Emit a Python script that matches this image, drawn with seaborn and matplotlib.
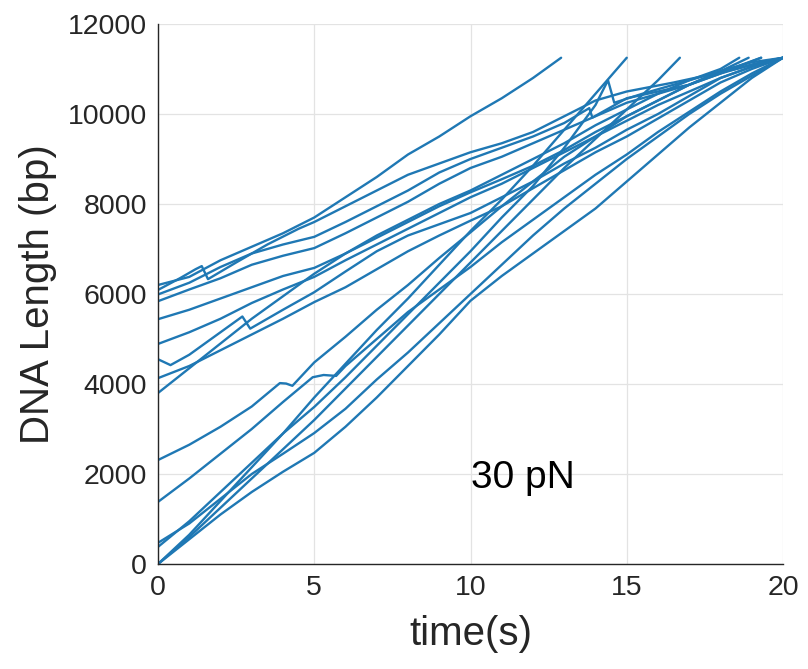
import matplotlib
matplotlib.use("Agg")
import matplotlib.pyplot as plt
import seaborn as sns
import pandas as pd

# ---- data: (time s, DNA length bp) per trace ----
t_u1 = [0, 1, 2, 3, 4, 5, 6, 7, 8, 9, 10, 11, 12, 12.9]
bp_u1 = [6200, 6380, 6750, 7050, 7350, 7700, 8150, 8600, 9100, 9500, 9950, 10350, 10800, 11250]

t_u2 = [0, 0.7, 1.2, 1.4, 1.6, 2.5, 3.5, 4.5, 5, 6, 7, 8, 9, 10, 11, 12, 13, 14, 15, 16.5, 17.5, 18.5, 19.5, 20]
bp_u2 = [6090, 6350, 6550, 6620, 6330, 6700, 7100, 7450, 7600, 7950, 8300, 8650, 8900, 9150, 9350, 9600, 9950, 10300, 10500, 10700, 10850, 11000, 11180, 11250]

t_u3 = [0, 1, 2, 3, 4, 5, 6, 7, 8, 9, 10, 11, 12, 13, 13.8, 13.9, 15, 16, 17, 18, 19.3]
bp_u3 = [5990, 6250, 6600, 6900, 7100, 7270, 7600, 7950, 8300, 8700, 9000, 9250, 9500, 9800, 10130, 9920, 10350, 10500, 10650, 10900, 11250]

t_u4 = [0, 1, 2, 3, 4, 5, 6, 7, 8, 9, 10, 11, 12, 13, 14, 15, 16, 17, 18, 19, 20]
bp_u4 = [5840, 6100, 6350, 6650, 6850, 7020, 7350, 7700, 8050, 8450, 8800, 9050, 9350, 9650, 9950, 10250, 10450, 10650, 10900, 11100, 11250]

t_u5 = [0, 1, 2, 3, 4, 5, 6, 7, 8, 9, 10, 11, 12, 13, 14, 15, 16, 17, 18, 18.9]
bp_u5 = [5440, 5650, 5900, 6150, 6400, 6580, 6900, 7250, 7600, 7950, 8260, 8550, 8850, 9200, 9600, 9950, 10300, 10650, 10950, 11250]

t_u6 = [0, 1, 2, 3, 4, 5, 6, 7, 8, 9, 10, 11, 12, 13, 14, 15, 16, 17, 18, 19, 20]
bp_u6 = [4890, 5150, 5450, 5800, 6100, 6380, 6750, 7100, 7450, 7800, 8150, 8450, 8800, 9150, 9500, 9850, 10200, 10500, 10800, 11050, 11250]

t_u7 = [0, 0.4, 1, 2, 2.7, 2.95, 4, 5, 6, 7, 8, 9, 10, 11, 12, 13, 14, 15, 16, 17, 18, 19, 20]
bp_u7 = [4550, 4420, 4650, 5150, 5500, 5230, 5650, 6040, 6500, 6950, 7300, 7550, 7800, 8150, 8500, 8900, 9250, 9650, 10000, 10400, 10800, 11050, 11250]

t_u8 = [0, 1, 2, 3, 4, 5, 6, 7, 8, 9, 10, 11, 12, 13, 14, 15, 16, 17, 18, 19, 20]
bp_u8 = [4130, 4400, 4750, 5100, 5450, 5820, 6150, 6550, 6950, 7300, 7630, 7950, 8350, 8750, 9150, 9500, 9900, 10300, 10700, 11000, 11250]

t_u9 = [0, 1, 2, 3, 4, 5, 6, 7, 8, 9, 10, 11, 12, 13, 14, 15, 16, 17, 18, 18.6]
bp_u9 = [3800, 4350, 4900, 5450, 5950, 6450, 6900, 7300, 7650, 8000, 8300, 8650, 9000, 9350, 9750, 10100, 10450, 10750, 11000, 11250]

t_s1 = [0, 1, 2, 3, 3.9, 4.1, 4.3, 5, 6, 7, 8, 9, 10, 11, 12, 13, 14, 15, 16, 17, 18, 19, 20]
bp_s1 = [2310, 2650, 3050, 3500, 4020, 4010, 3960, 4480, 5050, 5650, 6200, 6800, 7370, 7950, 8500, 9050, 9500, 9950, 10300, 10650, 10950, 11150, 11250]

t_s2 = [0, 1, 2, 3, 4, 4.95, 5.3, 5.7, 6, 7, 8, 9, 10, 11, 12, 13, 14, 15, 16, 17, 18, 19, 20]
bp_s2 = [1380, 1900, 2450, 3000, 3600, 4150, 4200, 4180, 4400, 5000, 5600, 6100, 6600, 7150, 7650, 8150, 8650, 9100, 9600, 10050, 10500, 10900, 11250]

t_f = [0, 1, 2, 3, 4, 5, 6, 7, 8, 9, 10, 11, 12, 13, 14, 15]
bp_f = [0, 650, 1400, 2150, 2900, 3700, 4450, 5200, 5900, 6650, 7400, 8100, 8850, 9650, 10450, 11250]

t_h = [0, 1, 2, 3, 4, 5, 6, 7, 8, 9, 10, 11, 12, 13, 14, 15, 16, 16.7]
bp_h = [0, 600, 1250, 1900, 2550, 3200, 3900, 4600, 5300, 6000, 6700, 7400, 8100, 8800, 9450, 10100, 10750, 11250]

t_g = [0, 1, 2, 3, 4, 5, 6, 7, 8, 9, 10, 11, 12, 13, 14, 14.4, 14.6, 15.5, 16.5, 17.5, 18.5, 19.3]
bp_g = [380, 950, 1600, 2250, 2900, 3490, 4150, 4850, 5550, 6250, 6950, 7700, 8400, 9250, 10200, 10750, 10250, 10450, 10650, 10850, 11050, 11250]

t_l4 = [0, 1, 2, 3, 4, 5, 6, 7, 8, 9, 10, 11, 12, 13, 14, 15, 16, 17, 18, 19, 20]
bp_l4 = [470, 900, 1450, 2000, 2450, 2910, 3450, 4100, 4700, 5350, 6000, 6650, 7300, 7900, 8450, 9000, 9500, 10000, 10450, 10850, 11250]

t_l5 = [0, 1, 2, 3, 4, 5, 6, 7, 8, 9, 10, 11, 12, 13, 14, 15, 16, 17, 18, 19, 20]
bp_l5 = [0, 550, 1100, 1600, 2050, 2470, 3050, 3700, 4400, 5100, 5850, 6400, 6900, 7400, 7900, 8500, 9100, 9700, 10250, 10800, 11250]

x_ticks = [0, 5, 10, 15, 20]
y_ticks = [0, 2000, 4000, 6000, 8000, 10000, 12000]
annotation = "30 pN"

traces = {
    "u1": (t_u1, bp_u1), "u2": (t_u2, bp_u2), "u3": (t_u3, bp_u3),
    "u4": (t_u4, bp_u4), "u5": (t_u5, bp_u5), "u6": (t_u6, bp_u6),
    "u7": (t_u7, bp_u7), "u8": (t_u8, bp_u8), "u9": (t_u9, bp_u9),
    "s1": (t_s1, bp_s1), "s2": (t_s2, bp_s2), "f": (t_f, bp_f),
    "h": (t_h, bp_h), "g": (t_g, bp_g), "l4": (t_l4, bp_l4), "l5": (t_l5, bp_l5),
}
rows = []
for name, (ts, bps) in traces.items():
    for i, (tt, bb) in enumerate(zip(ts, bps)):
        rows.append({"trace": name, "order": i, "t": tt, "bp": bb})
df = pd.DataFrame(rows)

sns.set_style("white")
plt.rcParams["font.family"] = ["Liberation Sans", "DejaVu Sans"]

fig = plt.figure(figsize=(8.08, 6.69), dpi=100)
ax = fig.add_axes([158 / 808, 1 - 564 / 669, (783 - 158) / 808, (564 - 24) / 669])

sns.lineplot(data=df, x="t", y="bp", units="trace", estimator=None, sort=False,
             color="#1f78b4", lw=1.7, ax=ax)

ax.set_xlim(0, 20)
ax.set_ylim(0, 12000)
ax.set_xticks(x_ticks)
ax.set_yticks(y_ticks)
ax.set_xticklabels([str(v) for v in x_ticks])
ax.set_yticklabels([str(v) for v in y_ticks])
ax.grid(True, color="#e3e3e3", lw=0.9)
ax.set_axisbelow(True)
for s in ["top", "right"]:
    ax.spines[s].set_visible(False)
for s in ["left", "bottom"]:
    ax.spines[s].set_color("#262626")
    ax.spines[s].set_linewidth(1.0)
ax.tick_params(direction="in", length=6, width=1, color="#262626",
               labelsize=20.5, labelcolor="#262626", pad=8)
ax.set_xlabel("time(s)", fontsize=29, color="#262626", labelpad=10)
ax.set_ylabel("DNA Length (bp)", fontsize=29, color="#262626", labelpad=8)
ax.text(10.0, 1900, annotation, fontsize=28, color="black", ha="left", va="center")

fig.savefig("out.png", dpi=100)
